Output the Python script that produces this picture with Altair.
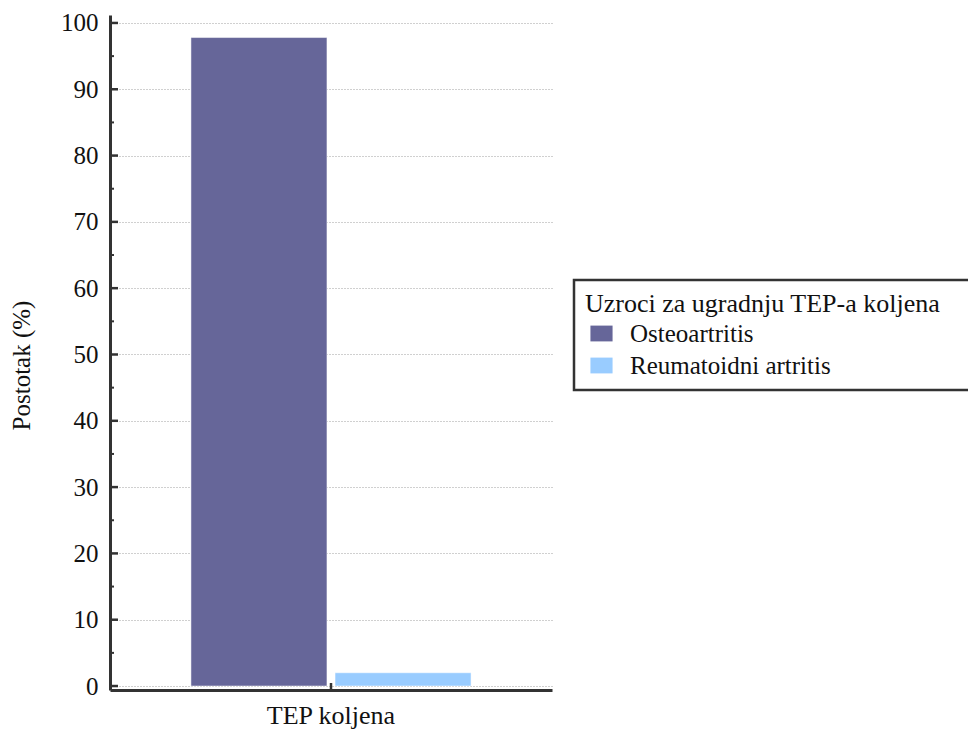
import altair as alt
import pandas as pd

categories = ["TEP koljena"]
causes = ["Osteoartritis", "Reumatoidni artritis"]
values = [97.8, 2.0]
colors = ["#666699", "#99CCFF"]
major_ticks = [0, 10, 20, 30, 40, 50, 60, 70, 80, 90, 100]
minor_ticks = [5, 15, 25, 35, 45, 55, 65, 75, 85, 95]

FONT = "Liberation Serif, Times New Roman, serif"
FS = 25

df = pd.DataFrame({"kat": categories * len(causes), "uzrok": causes, "v": values})
df_major = pd.DataFrame({"t": major_ticks})
df_minor = pd.DataFrame({"t": minor_ticks})
df_cat = pd.DataFrame({"kat": categories})

yscale = alt.Scale(domain=[-0.6, 101.2], nice=False, zero=False)
xscale = alt.Scale(paddingOuter=0.289, paddingInner=0)

bars = alt.Chart(df).mark_bar(stroke="white", strokeWidth=0.5).encode(
    x=alt.X("kat:N", scale=xscale, title=None,
            axis=alt.Axis(labelAngle=0, tickSize=0, labelPadding=12, domainWidth=3,
                          domainColor="#333333", labelFont=FONT, labelFontSize=26,
                          labelColor="#111111", grid=False)),
    xOffset=alt.XOffset("uzrok:N", sort=causes,
                        scale=alt.Scale(paddingInner=0.056, paddingOuter=0)),
    y=alt.Y("v:Q", scale=yscale, title="Postotak (%)",
            axis=alt.Axis(values=major_ticks, tickSize=0, labelPadding=12, domainWidth=3,
                          domainColor="#333333", grid=True, gridDash=[1, 2],
                          gridColor="#888888", gridWidth=0.8, labelFont=FONT,
                          labelFontSize=FS, labelColor="#111111", titleFont=FONT,
                          titleFontSize=FS, titleFontWeight="normal", titleColor="#111111",
                          titleX=-76, titleY=350)),
    color=alt.Color("uzrok:N", sort=causes,
                    scale=alt.Scale(domain=causes, range=colors),
                    legend=alt.Legend(title="Uzroci za ugradnju TEP-a koljena\u2800",
                                      orient="none", legendX=464, legendY=265,
                                      strokeColor="#333333", padding=11,
                                      titleFont=FONT, titleFontSize=26,
                                      titleFontWeight="normal", titleColor="#111111",
                                      titleLimit=0, labelLimit=0,
                                      labelFont=FONT, labelFontSize=FS, labelColor="#111111",
                                      symbolType="M-1.4,-1H1.4V1H-1.4Z", symbolSize=250,
                                      symbolStrokeWidth=0, symbolOffset=4, labelOffset=16,
                                      rowPadding=6, titlePadding=4)),
)

major = alt.Chart(df_major).mark_rule(color="#333333", strokeWidth=2.5).encode(
    y=alt.Y("t:Q", scale=yscale), x=alt.value(0), x2=alt.value(8))
minor = alt.Chart(df_minor).mark_rule(color="#333333", strokeWidth=2).encode(
    y=alt.Y("t:Q", scale=yscale), x=alt.value(0), x2=alt.value(4))
xtick = alt.Chart(df_cat).mark_rule(color="#333333", strokeWidth=2.5).encode(
    x=alt.X("kat:N", scale=xscale), y=alt.value(675), y2=alt.value(668))

chart = alt.layer(bars, major, minor, xtick).properties(
    width=442, height=675,
    autosize=alt.AutoSizeParams(type="none"),
    padding={"left": 102, "top": 7, "right": 416, "bottom": 45},
).configure(font=FONT).configure_view(strokeWidth=0, stroke="transparent").configure_legend(strokeWidth=2.5)

chart.save("out.html", embed_options={"renderer": "svg", "actions": False})
